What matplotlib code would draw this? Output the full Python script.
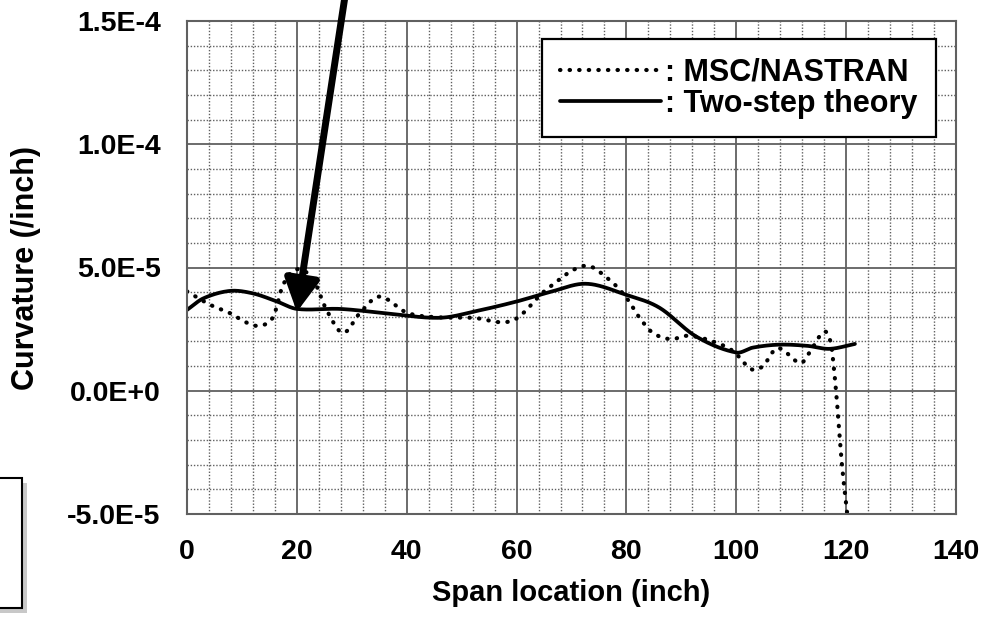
import numpy as np
import matplotlib
matplotlib.use('Agg')
import matplotlib.pyplot as plt
from matplotlib.ticker import MultipleLocator, FuncFormatter
from matplotlib.patches import Rectangle

plt.rcParams['font.family'] = ['Liberation Sans', 'DejaVu Sans']
plt.rcParams['font.weight'] = 'bold'

# MSC/NASTRAN result (dotted)
nas_x = [0, 4.2, 7.8, 11, 13.3, 15.7, 17.5, 20, 23, 25.4, 28.4, 31.5, 35, 40, 44.8,
         52, 59.3, 65.4, 72.4, 76.9, 80, 82.4, 84.8, 88.1, 90.9, 94.5, 99.3, 102.7,
         104.8, 107.5, 111.7, 113.3, 116, 117.2, 117.8, 118.4, 119.2, 120.2, 120.6]
nas_y = [4.03e-5, 3.49e-5, 3.15e-5, 2.75e-5, 2.64e-5, 3.0e-5, 4.3e-5, 4.93e-5, 4.5e-5,
         3.28e-5, 2.35e-5, 3.16e-5, 3.82e-5, 3.17e-5, 2.99e-5, 2.96e-5, 2.85e-5,
         4.1e-5, 5.07e-5, 4.5e-5, 3.77e-5, 2.96e-5, 2.35e-5, 2.09e-5, 2.23e-5, 2.09e-5,
         1.63e-5, 0.88e-5, 0.99e-5, 1.73e-5, 1.12e-5, 1.54e-5, 2.4e-5, 1.95e-5, 0.85e-5,
         -0.64e-5, -2.93e-5, -5.0e-5, -6.0e-5]

# Two-step theory result (solid)
two_x = [0, 3, 7.8, 12, 16.4, 20, 27.8, 36, 46, 53, 60, 66, 72.7, 80, 86, 92.7,
         100, 103, 107.8, 113, 117, 121.6]
two_y = [3.28e-5, 3.75e-5, 4.05e-5, 3.95e-5, 3.62e-5, 3.32e-5, 3.32e-5, 3.15e-5,
         2.96e-5, 3.25e-5, 3.62e-5, 4.0e-5, 4.34e-5, 3.89e-5, 3.37e-5, 2.2e-5,
         1.55e-5, 1.75e-5, 1.87e-5, 1.82e-5, 1.7e-5, 1.9e-5]


def sci_fmt(v, pos):
    if v == 0:
        return '0.0E+0'
    e = int(np.floor(np.log10(abs(v))))
    m = v / 10 ** e
    return f'{m:.1f}E{"+" if e >= 0 else "-"}{abs(e)}'


# cubic hermite through the read-off points, only for a smooth look
def smooth(xs, ys, n=600):
    xs = np.asarray(xs, float)
    ys = np.asarray(ys, float)
    t = np.linspace(xs[0], xs[-1], n)
    out = np.empty_like(t)
    for k, tv in enumerate(t):
        i = min(np.searchsorted(xs, tv, side='right') - 1, len(xs) - 2)
        i0, i1, i2, i3 = max(i - 1, 0), i, i + 1, min(i + 2, len(xs) - 1)
        h = xs[i2] - xs[i1]
        s = (tv - xs[i1]) / h
        m1 = (ys[i2] - ys[i0]) / (xs[i2] - xs[i0]) * h
        m2 = (ys[i3] - ys[i1]) / (xs[i3] - xs[i1]) * h
        out[k] = ((2 * s**3 - 3 * s**2 + 1) * ys[i1] + (s**3 - 2 * s**2 + s) * m1
                  + (-2 * s**3 + 3 * s**2) * ys[i2] + (s**3 - s**2) * m2)
    return t, out


fig = plt.figure(figsize=(9.87, 6.2), dpi=100)
ax = fig.add_axes([187 / 987, 1 - 514 / 620, 769 / 987, 493 / 620])

sx, sy = smooth(nas_x, nas_y)
ax.plot(sx, sy, color='black', lw=3.0, linestyle=(0, (0.1, 2.2)),
        dash_capstyle='round', label=': MSC/NASTRAN')
tx, ty = smooth(two_x, two_y)
ax.plot(tx, ty, color='black', lw=2.7, solid_capstyle='round',
        label=': Two-step theory')

ax.set_xlim(0, 140)
ax.set_ylim(-5e-5, 1.5e-4)
ax.xaxis.set_major_locator(MultipleLocator(20))
ax.xaxis.set_minor_locator(MultipleLocator(4))
ax.yaxis.set_major_locator(MultipleLocator(5e-5))
ax.yaxis.set_minor_locator(MultipleLocator(1e-5))
ax.yaxis.set_major_formatter(FuncFormatter(sci_fmt))

ax.grid(which='major', color='#606060', lw=1.3, ls='-')
ax.grid(which='minor', color='#606060', lw=1.0, ls=(0, (1, 1.3)))
ax.set_axisbelow(True)
for sp in ax.spines.values():
    sp.set_color('#606060')
    sp.set_linewidth(1.5)
ax.tick_params(which='both', length=0)
ax.tick_params(axis='y', labelsize=20.5, pad=19)
ax.tick_params(axis='x', labelsize=20.5, pad=18)
for lab in ax.get_xticklabels() + ax.get_yticklabels():
    lab.set_fontweight('bold')

ax.set_xlabel('Span location (inch)', fontsize=21, fontweight='bold', labelpad=10)
ax.set_ylabel('Curvature (/inch)', fontsize=22, fontweight='bold', labelpad=19)

leg = ax.legend(loc='upper right', bbox_to_anchor=(0.974, 0.963), borderaxespad=0,
                fancybox=False, framealpha=1, edgecolor='black', fontsize=22,
                handlelength=3.3, handletextpad=0.15, borderpad=0.6,
                labelspacing=0.05)
leg.get_frame().set_linewidth(1.6)
for t in leg.get_texts():
    t.set_fontweight('bold')

# Arrow pointing at the local dip near x = 20
ax.annotate('', xy=(20, 3.2e-5), xytext=(28.9, 1.62e-4),
            xycoords='data', textcoords='data', annotation_clip=False,
            arrowprops=dict(arrowstyle='-|>,head_length=0.65,head_width=0.35',
                            mutation_scale=30, lw=5, color='black',
                            shrinkA=0, shrinkB=0))

# Partially visible text box at bottom left (with shadow)
fig.patches.append(Rectangle((-15 / 987, 1 - 613 / 620), 42 / 987, 130 / 620,
                             transform=fig.transFigure, facecolor='#c8c8c8',
                             edgecolor='none', zorder=1))
fig.patches.append(Rectangle((-20 / 987, 1 - 608 / 620), 42 / 987, 130 / 620,
                             transform=fig.transFigure, facecolor='white',
                             edgecolor='black', lw=1.5, zorder=2))

fig.savefig('out.png', dpi=100)
